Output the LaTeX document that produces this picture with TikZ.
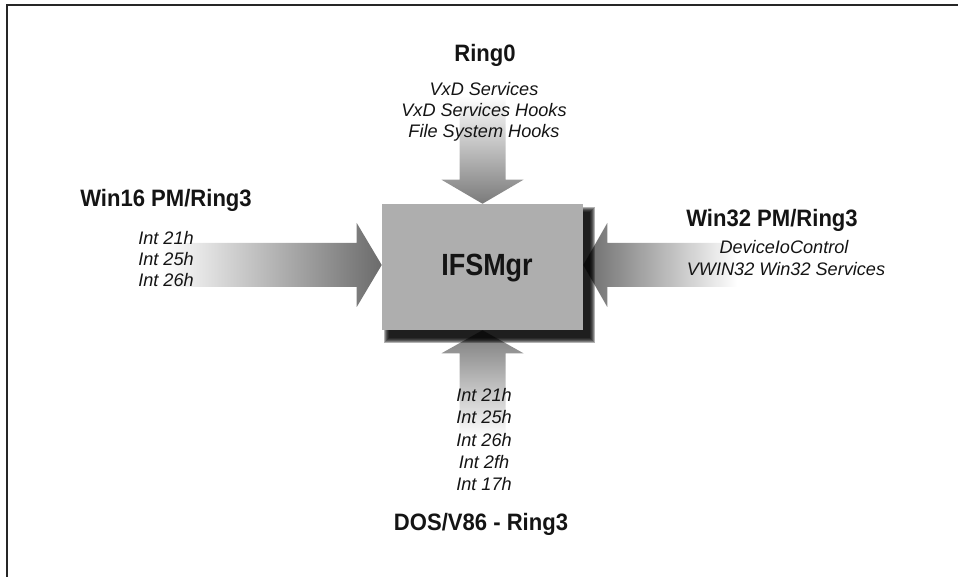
\documentclass[tikz,border=0pt]{standalone}
\usepackage{fontspec}
\setmainfont{Liberation Sans}
\newfontfamily\headfont[FakeStretch=0.93]{Liberation Sans}
\newfontfamily\boxfont[FakeStretch=0.88]{Liberation Sans}
\usetikzlibrary{calc}
\definecolor{boxgray}{HTML}{AEAEAE}
\definecolor{ink}{HTML}{141414}
\tikzset{
  ifsbox/.style={minimum width=150.75pt, minimum height=94.5pt, inner sep=0pt, draw=none},
  lbl/.style={anchor=base, inner sep=0pt, text=ink, font=\fontsize{13.6}{16}\selectfont\itshape},
  head/.style={anchor=base, inner sep=0pt, text=ink, font=\headfont\bfseries\fontsize{17.8}{20}\selectfont},
  boxlbl/.style={anchor=base, inner sep=0pt, text=ink, font=\boxfont\bfseries\fontsize{23}{26}\selectfont},
  frameline/.style={line width=1.6pt, draw=black!85},
}
\begin{document}
\begin{tikzpicture}[x=0.75pt,y=-0.75pt]
\useasboundingbox (0,0) rectangle (958,577);
\draw[frameline] (7,577) -- (7,5) -- (958,5);

% box placeholder (drawn later)
\node[ifsbox] (ifs) at (482.5,267) {};

% arrows
\shade[top color=white, bottom color=black!52]
  (ifs.north) -- ++(-41,-24) -- ++(18,0) -- ++(0,-84) -- ++(46,0) -- ++(0,84) -- ++(18,0) -- cycle;
\shade[top color=black!52, bottom color=white]
  (ifs.south) -- ++(-41,23) -- ++(18,0) -- ++(0,84) -- ++(46,0) -- ++(0,-84) -- ++(18,0) -- cycle;
\shade[left color=white, right color=black!58]
  ($(ifs.west)+(0,-2)$) -- ++(-25,-42) -- ++(0,20) -- ++(-195,0) -- ++(0,44) -- ++(195,0) -- ++(0,20) -- cycle;
\shade[left color=black!58, right color=white]
  ($(ifs.east)+(0,-2)$) -- ++(24,-42) -- ++(0,20) -- ++(130,0) -- ++(0,44) -- ++(-130,0) -- ++(0,20) -- cycle;

% blurred shadow
\foreach \r in {5,4,3,2,1,0}{
  \fill[black, opacity=0.3]
    ($(ifs.south west)+(7-\r,8+\r)$) rectangle ($(ifs.north east)+(7+\r,8-\r)$);
}
% box
\fill[boxgray] (ifs.south west) rectangle (ifs.north east);
\node[boxlbl] (ifslbl) at (487,276) {IFSMgr};

% top labels
\node[head] (ring0) at (485,62) {Ring0};
\node[lbl] (t1) at (484,96) {VxD Services};
\node[lbl] (t2) at (484,117) {VxD Services Hooks};
\node[lbl] (t3) at (484,138) {File System Hooks};

% left labels
\node[head] (win16) at (166,207) {Win16 PM/Ring3};
\node[lbl] (l1) at (166,245) {Int 21h};
\node[lbl] (l2) at (166,266) {Int 25h};
\node[lbl] (l3) at (166,287) {Int 26h};

% right labels
\node[head] (win32) at (772,227) {Win32 PM/Ring3};
\node[lbl] (r1) at (784,254) {DeviceIoControl};
\node[lbl] (r2) at (786,276) {VWIN32 Win32 Services};

% bottom labels
\node[lbl] (b1) at (484,402) {Int 21h};
\node[lbl] (b2) at (484,424) {Int 25h};
\node[lbl] (b3) at (484,447) {Int 26h};
\node[lbl] (b4) at (484,469) {Int 2fh};
\node[lbl] (b5) at (484,491) {Int 17h};
\node[head] (dos) at (481,531) {DOS/V86 - Ring3};
\end{tikzpicture}
\end{document}
